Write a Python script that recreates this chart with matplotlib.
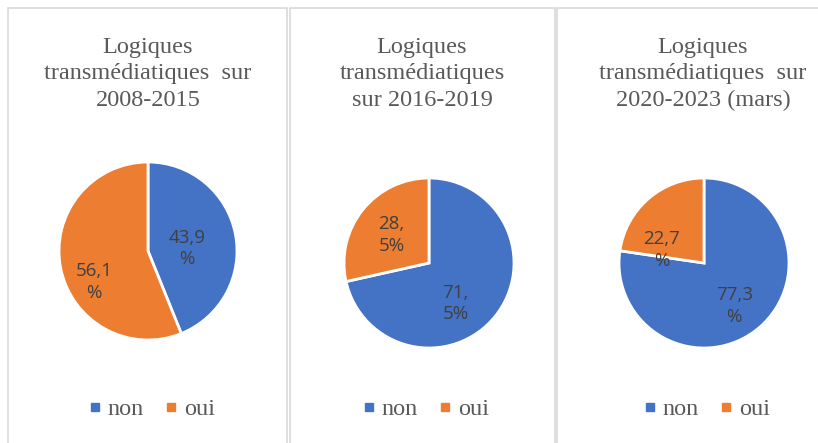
import numpy as np
import matplotlib.pyplot as plt
from matplotlib.patches import Rectangle
from matplotlib.lines import Line2D

# data
titles = ['Logiques\ntransmédiatiques  sur\n2008-2015',
          'Logiques\ntransmédiatiques\nsur 2016-2019',
          'Logiques\ntransmédiatiques  sur\n2020-2023 (mars)']
categories = ['non', 'oui']
non_values = [43.9, 71.5, 77.3]
oui_values = [56.1, 28.5, 22.7]
# labels as wrapped in the original
pct_labels = [['43,9\n%', '56,1\n%'],
              ['71,\n5%', '28,\n5%'],
              ['77,3\n%', '22,7\n%']]

colors = ['#4472C4', '#ED7D31']
W, H = 818, 443

fig = plt.figure(figsize=(W / 100, H / 100), dpi=100)
fig.patch.set_facecolor('white')

# panel frames (x0, x1) in pixels, and pie centers / radius
panels = [(8, 287), (290, 555), (557, 830)]
centers = [(148, 251, 89), (429, 263, 85), (704, 263, 85)]
title_x = [148, 422, 703]
# label placement (radius fraction, angle deg) for non / oui
label_pos = [[(0.44, 4), (0.70, 210)],
             [(0.57, -57), (0.55, 143)],
             [(0.62, -55), (0.52, 163)]]

for i in range(3):
    x0, x1 = panels[i]
    fig.patches.append(Rectangle((x0 / W, -0.05), (x1 - x0) / W, 1.05 - 8 / H,
                                 transform=fig.transFigure, fill=False,
                                 edgecolor='#d9d9d9', linewidth=1.2))

    cx, cy, r = centers[i]
    ax = fig.add_axes([(cx - r) / W, (H - cy - r) / H, 2 * r / W, 2 * r / H])
    vals = [non_values[i], oui_values[i]]
    ax.pie(vals, colors=colors, startangle=90, counterclock=False,
           wedgeprops=dict(edgecolor='white', linewidth=2))
    ax.set_xlim(-1, 1)
    ax.set_ylim(-1, 1)
    ax.axis('off')
    for j in range(2):
        d, a = label_pos[i][j]
        ax.text(d * np.cos(np.radians(a)), d * np.sin(np.radians(a)),
                pct_labels[i][j], ha='center', va='center', fontsize=13.5,
                color='#404040', family='Open Sans', linespacing=1.25)

    fig.text(title_x[i] / W, 1 - 74 / H, titles[i], ha='center', va='center',
             fontsize=17.5, family='Liberation Serif', color='#595959',
             linespacing=1.35)

    handles = [Line2D([], [], marker='s', linestyle='none', markersize=6,
                      color=c) for c in colors]
    fig.legend(handles, categories, loc='center',
               bbox_to_anchor=(title_x[i] / W + 0.004, 1 - 409 / H), ncol=2,
               frameon=False, handletextpad=0.25, columnspacing=0.8,
               prop={'family': 'Liberation Serif', 'size': 17.5},
               labelcolor='#595959', handlelength=0.6)

fig.savefig('out.png', dpi=100, facecolor='white')
